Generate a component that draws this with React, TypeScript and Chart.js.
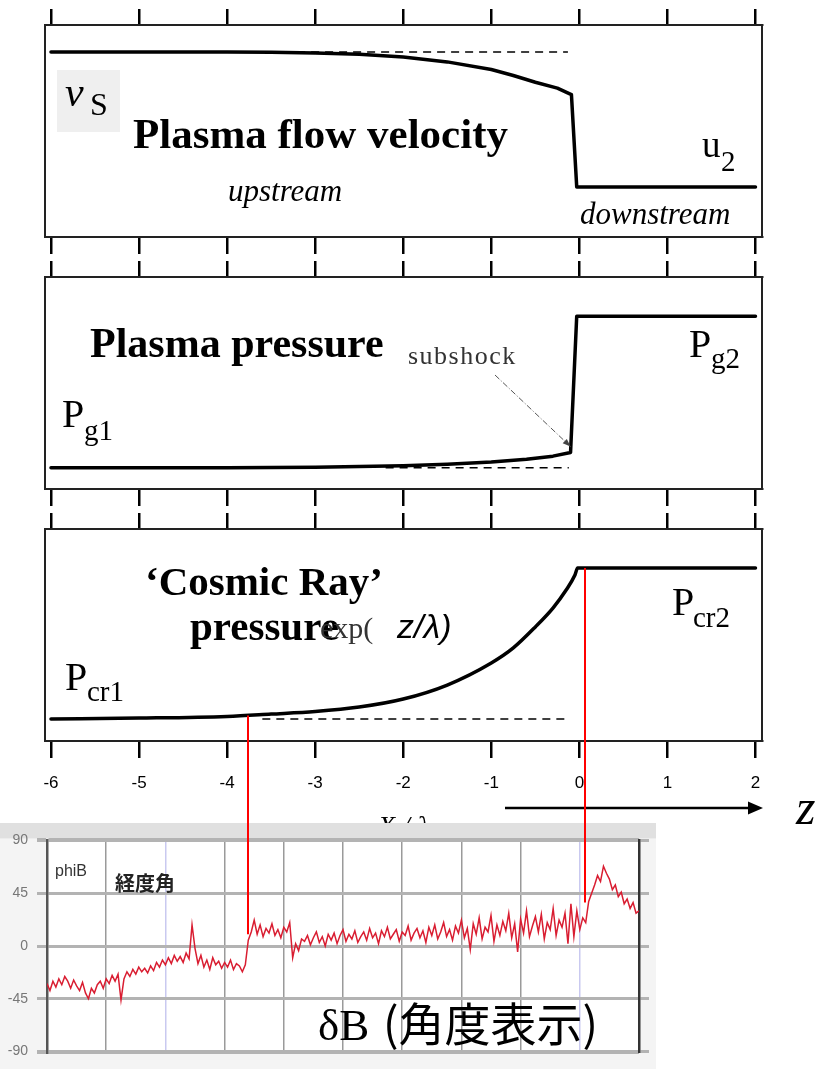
import React, { useEffect, useRef } from 'react';
import { Chart, registerables } from 'chart.js';

Chart.register(...registerables);

// ---------------- Data ----------------
const zTicks = [-6, -5, -4, -3, -2, -1, 0, 1, 2];
const Z_MIN = -6.068;
const Z_MAX = 2.074;

// Plasma flow velocity (fraction of panel height)
const velocityZ = [-6, -4, -3.5, -3, -2.5, -2, -1.5, -1, -0.75, -0.5, -0.25, -0.09, -0.03, 2];
const velocityU = [0.873, 0.873, 0.872, 0.868, 0.862, 0.849, 0.826, 0.79, 0.762, 0.73, 0.702, 0.672, 0.236, 0.236];
const velocityRefZ = [-4, -0.13];
const velocityRefU = [0.873, 0.873];

// Plasma pressure
const gasZ = [-6, -4, -3, -2.5, -2, -1.5, -1, -0.6, -0.3, -0.1, -0.03, 2];
const gasP = [0.1, 0.1, 0.103, 0.106, 0.11, 0.117, 0.127, 0.14, 0.155, 0.172, 0.815, 0.815];
const gasRefZ = [-2.2, -0.12];
const gasRefP = [0.1, 0.1];

// Cosmic ray pressure
const crZ = [-6, -5, -4, -3.5, -3, -2.5, -2, -1.5, -1, -0.75, -0.5, -0.3, -0.15, -0.05, -0.02, 2];
const crP = [0.104, 0.108, 0.116, 0.127, 0.139, 0.16, 0.198, 0.264, 0.368, 0.439, 0.538, 0.627, 0.712, 0.783, 0.816, 0.816];
const crRefZ = [-3.6, -0.12];
const crRefP = [0.104, 0.104];

// phiB (degrees), inset
const phiTicks = [-90, -45, 0, 45, 90];
const phiGrid = [0, 1, 2, 3, 4, 5, 6, 7, 8, 9, 10];
const phiB = [
  -32, -38, -30, -35, -28, -33, -26, -30, -36, -29,
  -34, -38, -31, -40, -45, -36, -40, -33, -30, -36,
  -28, -32, -25, -30, -24, -46, -28, -22, -26, -20,
  -24, -18, -22, -19, -23, -17, -21, -14, -18, -12,
  -16, -10, -15, -8, -13, -9, -14, -6, -11, 18,
  -2, -15, -8, -18, -12, -20, -10, -16, -13, -19,
  -14, -18, -12, -20, -15, -17, -22, -16,
  5, 12, 22, 10, 18, 8, 15, 11, 19, 9, 14, 7, 16, 12, 20, -10, 2, -4, 6,
  4, 9, 1, 7, 12, 3, 8, 0, 10, 5,
  11, 2, 9, 14, 4, 10, 6, 13, 3, 8,
  12, 5, 15, 7, 11, 2, 13, 8, 16, 6,
  10, 14, 4, 12, 9, 17, 5, 11, 15, 7,
  13, 3, 16, 9, 18, 6, 12, 20, 8, 14,
  5, 17, 11, 22, 7, 15, -3, 19, 10, 24,
  6, 16, 12, 26, 4, 18, 9, 21, 13, 28,
  7, 19, -5, 23, 11, 30, 8, 17, 25, 12,
  27, 6, 20, 14, 32, 9, 22, 16, 28, 2,
  36, 8, 30, 14, 24, 20,
  38, 45, 52, 60, 55, 68, 62, 57, 48, 52, 42, 46, 36, 40, 32, 37, 28, 30,
];
const PHI_X_MAX = 10;

// red connecting lines
const linkZ = [-3.76, 0.06];
const linkP = [0.12, 0.816];
const linkPhi = [10, 37];

// ---------------- Layout ----------------
const SERIF = '"Liberation Serif", "Times New Roman", serif';
const SANS = '"Liberation Sans", Arial, sans-serif';
const CJK = '"Noto Sans CJK JP", sans-serif';

const W = 821;
const PANEL_TOPS = [9, 261, 513];
const PANEL_H = [245, 245, 331];
const BOTTOM_AXIS_H = [17, 17, 103];
const INSET_TOP = 823;
const INSET_W = 656;
const INSET_H = 246;

type TextItem = { t: string; x: number; y: number; font: string; color?: string; ls?: string };

const velocityTexts: TextItem[] = [
  { t: 'v', x: 65, y: 106, font: `italic 42px ${SERIF}` },
  { t: 'S', x: 90, y: 115, font: `32px ${SERIF}` },
  { t: 'Plasma flow velocity', x: 133, y: 148, font: `bold 43px ${SERIF}` },
  { t: 'upstream', x: 228, y: 201, font: `italic 31px ${SERIF}` },
  { t: 'downstream', x: 580, y: 224, font: `italic 31px ${SERIF}` },
  { t: 'u', x: 702, y: 157, font: `37px ${SERIF}` },
  { t: '2', x: 721, y: 171, font: `29px ${SERIF}` },
];

const gasTexts: TextItem[] = [
  { t: 'Plasma pressure', x: 90, y: 357, font: `bold 42px ${SERIF}` },
  { t: 'subshock', x: 408, y: 364, font: `26px ${SERIF}`, color: '#333', ls: '1.5px' },
  { t: 'P', x: 62, y: 427, font: `40px ${SERIF}` },
  { t: 'g1', x: 84, y: 440, font: `29px ${SERIF}` },
  { t: 'P', x: 689, y: 357, font: `40px ${SERIF}` },
  { t: 'g2', x: 711, y: 368, font: `29px ${SERIF}` },
];

const crTexts: TextItem[] = [
  { t: '\u2018Cosmic Ray\u2019', x: 145, y: 595, font: `bold 41px ${SERIF}` },
  { t: 'pressure', x: 190, y: 640, font: `bold 41px ${SERIF}` },
  { t: 'exp(', x: 320, y: 638, font: `30px ${SERIF}`, color: '#333' },
  { t: 'z/\u03bb)', x: 397, y: 638, font: `italic 34px ${SANS}` },
  { t: 'P', x: 65, y: 690, font: `40px ${SERIF}` },
  { t: 'cr1', x: 87, y: 701, font: `29px ${SERIF}` },
  { t: 'P', x: 672, y: 615, font: `40px ${SERIF}` },
  { t: 'cr2', x: 693, y: 627, font: `29px ${SERIF}` },
  { t: 'z', x: 796, y: 824, font: `italic 50px ${SERIF}` },
];

const insetTexts: TextItem[] = [
  { t: 'phiB', x: 55, y: 876, font: `16px ${SANS}`, color: '#333' },
  { t: '経度角', x: 115, y: 891, font: `bold 20px ${CJK}`, color: '#222' },
  { t: 'δB', x: 318, y: 1040, font: `45px ${SERIF}` },
  { t: '(角度表示)', x: 383, y: 1041, font: `46px ${CJK}` },
];

function drawTexts(ctx: CanvasRenderingContext2D, items: TextItem[], top: number) {
  ctx.save();
  ctx.textBaseline = 'alphabetic';
  ctx.textAlign = 'left';
  for (const it of items) {
    ctx.font = it.font;
    ctx.fillStyle = it.color || '#000';
    (ctx as any).letterSpacing = it.ls || '0px';
    ctx.fillText(it.t, it.x, it.y - top);
  }
  ctx.restore();
}

function arrowHead(ctx: CanvasRenderingContext2D, x0: number, y0: number, x1: number, y1: number, len: number, half: number) {
  const a = Math.atan2(y1 - y0, x1 - x0);
  ctx.beginPath();
  ctx.moveTo(x1, y1);
  ctx.lineTo(x1 - len * Math.cos(a) + half * Math.sin(a), y1 - len * Math.sin(a) - half * Math.cos(a));
  ctx.lineTo(x1 - len * Math.cos(a) - half * Math.sin(a), y1 - len * Math.sin(a) + half * Math.cos(a));
  ctx.closePath();
  ctx.fill();
}

const pts = (xs: number[], ys: number[]) => xs.map((x, i) => ({ x, y: ys[i] }));

function makePanel(
  canvas: HTMLCanvasElement,
  idx: number,
  xs: number[], ys: number[],
  rx: number[], ry: number[],
  smooth: boolean,
  showLabels: boolean,
  decorate: (chart: any, top: number) => void,
) {
  const top = PANEL_TOPS[idx];
  const bottomH = BOTTOM_AXIS_H[idx];
  const yEdge = (position: string) => ({
    position, min: 0, max: 1,
    afterFit: (s: any) => { s.width = 0; },
    grid: { display: false, drawTicks: false },
    ticks: { display: false },
    border: { display: true, color: '#222', width: 2 },
  });
  const tickGrid = (len: number) => ({ drawOnChartArea: false, drawTicks: true, tickLength: len, color: '#000', lineWidth: 2.5 });
  const solid: any = { data: pts(xs, ys), borderColor: '#000', borderWidth: 3.5, pointRadius: 0, fill: false, borderJoinStyle: 'round', borderCapStyle: 'round' };
  if (smooth) solid.cubicInterpolationMode = 'monotone';
  else solid.tension = 0;
  return new Chart(canvas, {
    type: 'line',
    data: {
      datasets: [
        solid,
        { data: pts(rx, ry), borderColor: '#000', borderWidth: 1.5, borderDash: [8, 6], pointRadius: 0, fill: false },
      ],
    },
    options: {
      responsive: false,
      animation: false,
      events: [],
      layout: { autoPadding: false, padding: { left: 45, right: W - 762, top: 0, bottom: 0 } },
      plugins: { legend: { display: false }, tooltip: { enabled: false } },
      scales: {
        x: {
          type: 'linear', position: 'bottom', min: Z_MIN, max: Z_MAX,
          afterBuildTicks: (s: any) => { s.ticks = zTicks.map((value) => ({ value })); },
          afterFit: (s: any) => { s.height = bottomH; },
          grid: tickGrid(17),
          border: { display: true, color: '#222', width: 2 },
          ticks: showLabels
            ? { display: true, autoSkip: false, maxRotation: 0, padding: 15, color: '#000', font: { family: SANS, size: 17 } }
            : { display: false },
          title: showLabels
            ? { display: true, text: 'X / λ', color: '#000', padding: 0, font: { family: SERIF, size: 28, style: 'italic' } }
            : { display: false },
        },
        xTop: {
          type: 'linear', position: 'top', min: Z_MIN, max: Z_MAX,
          afterBuildTicks: (s: any) => { s.ticks = zTicks.map((value) => ({ value })); },
          afterFit: (s: any) => { s.height = 16; },
          grid: tickGrid(16),
          border: { display: true, color: '#222', width: 2 },
          ticks: { display: false },
        },
        y: yEdge('left'),
        yR: yEdge('right'),
      },
    } as any,
    plugins: [{ id: 'annot' + idx, afterDraw: (chart: any) => decorate(chart, top) }],
  });
}

export default function App() {
  const c1 = useRef<HTMLCanvasElement>(null);
  const c2 = useRef<HTMLCanvasElement>(null);
  const c3 = useRef<HTMLCanvasElement>(null);
  const c4 = useRef<HTMLCanvasElement>(null);
  const ov = useRef<HTMLCanvasElement>(null);

  useEffect(() => {
    const p1 = makePanel(c1.current!, 0, velocityZ, velocityU, velocityRefZ, velocityRefU, false, false, (chart, top) => {
      const ctx = chart.ctx as CanvasRenderingContext2D;
      ctx.save();
      ctx.fillStyle = '#efefef';
      ctx.fillRect(57, 70 - top, 63, 62);
      ctx.restore();
      drawTexts(ctx, velocityTexts, top);
    });

    const p2 = makePanel(c2.current!, 1, gasZ, gasP, gasRefZ, gasRefP, false, false, (chart, top) => {
      const ctx = chart.ctx as CanvasRenderingContext2D;
      drawTexts(ctx, gasTexts, top);
      const ex = chart.scales.x.getPixelForValue(-0.1);
      const ey = chart.scales.y.getPixelForValue(0.2);
      const sx = 495, sy = 375 - top;
      ctx.save();
      ctx.strokeStyle = '#555';
      ctx.fillStyle = '#444';
      ctx.lineWidth = 1;
      ctx.setLineDash([6, 2, 1, 2]);
      ctx.beginPath();
      ctx.moveTo(sx, sy);
      ctx.lineTo(ex, ey);
      ctx.stroke();
      ctx.setLineDash([]);
      arrowHead(ctx, sx, sy, ex, ey, 8, 3);
      ctx.restore();
    });

    const p3 = makePanel(c3.current!, 2, crZ, crP, crRefZ, crRefP, true, true, (chart, top) => {
      const ctx = chart.ctx as CanvasRenderingContext2D;
      drawTexts(ctx, crTexts, top);
      ctx.save();
      ctx.strokeStyle = '#000';
      ctx.fillStyle = '#000';
      ctx.lineWidth = 2.5;
      const ay = 808 - top;
      ctx.beginPath();
      ctx.moveTo(505, ay);
      ctx.lineTo(750, ay);
      ctx.stroke();
      arrowHead(ctx, 505, ay, 763, ay, 15, 6.5);
      ctx.restore();
    });

    const inset = new Chart(c4.current!, {
      type: 'line',
      data: {
        datasets: [{
          data: phiB.map((v, i) => ({ x: (i * PHI_X_MAX) / (phiB.length - 1), y: v })),
          borderColor: '#d91d31',
          borderWidth: 1.5,
          pointRadius: 0,
          tension: 0,
          fill: false,
        }],
      },
      options: {
        responsive: false,
        animation: false,
        events: [],
        layout: { autoPadding: false, padding: { left: 0, right: 7, top: 14, bottom: 7 } },
        plugins: { legend: { display: false }, tooltip: { enabled: false } },
        scales: {
          x: {
            type: 'linear', min: 0, max: PHI_X_MAX,
            afterBuildTicks: (s: any) => { s.ticks = phiGrid.map((value) => ({ value })); },
            afterFit: (s: any) => { s.height = 0; },
            ticks: { display: false },
            grid: {
              drawTicks: false,
              color: (c: any) => (c.index === 2 || c.index === 9 ? '#c9c9f0' : '#9a9a9a'),
              lineWidth: 1.5,
            },
            border: { display: false },
          },
          y: {
            position: 'left', min: -90, max: 90,
            afterBuildTicks: (s: any) => { s.ticks = phiTicks.map((value) => ({ value })); },
            afterFit: (s: any) => { s.width = 47; },
            ticks: { color: '#777', padding: 9, font: { family: SANS, size: 14 } },
            grid: {
              color: '#b3b3b3',
              lineWidth: (c: any) => (c.tick && Math.abs(c.tick.value) === 90 ? 4 : 3),
              tickLength: 10,
            },
            border: { display: true, color: '#555', width: 2.5 },
          },
          yR: {
            position: 'right', min: -90, max: 90,
            afterBuildTicks: (s: any) => { s.ticks = phiTicks.map((value) => ({ value })); },
            afterFit: (s: any) => { s.width = 10; },
            ticks: { display: false },
            grid: { drawOnChartArea: false, tickLength: 10, color: '#b3b3b3', lineWidth: 3 },
            border: { display: true, color: '#333', width: 2.5 },
          },
        },
      } as any,
      plugins: [{
        id: 'insetDeco',
        beforeDraw: (chart: any) => {
          const ctx = chart.ctx as CanvasRenderingContext2D;
          const a = chart.chartArea;
          ctx.save();
          ctx.fillStyle = '#f4f4f4';
          ctx.fillRect(0, 0, chart.width, chart.height);
          ctx.fillStyle = '#e0e0e0';
          ctx.fillRect(0, 0, chart.width, a.top - 2);
          ctx.fillStyle = '#ffffff';
          ctx.fillRect(a.left, a.top, a.right - a.left, a.bottom - a.top);
          ctx.restore();
        },
        afterDraw: (chart: any) => {
          drawTexts(chart.ctx, insetTexts, INSET_TOP);
        },
      }],
    });

    // red connecting lines across panel 3 and the inset
    const o = ov.current!;
    const octx = o.getContext('2d')!;
    octx.clearRect(0, 0, o.width, o.height);
    octx.strokeStyle = '#ff0000';
    octx.lineWidth = 2;
    linkZ.forEach((z, i) => {
      const x = Math.round((p3 as any).scales.x.getPixelForValue(z));
      const yTop = PANEL_TOPS[2] + (p3 as any).scales.y.getPixelForValue(linkP[i]);
      const yBot = INSET_TOP + (inset as any).scales.y.getPixelForValue(linkPhi[i]);
      octx.beginPath();
      octx.moveTo(x, yTop);
      octx.lineTo(x, yBot);
      octx.stroke();
    });

    return () => {
      p1.destroy();
      p2.destroy();
      p3.destroy();
      inset.destroy();
    };
  }, []);

  const abs = (top: number, w: number, h: number, z = 1): React.CSSProperties => ({
    position: 'absolute', left: 0, top, width: w, height: h, zIndex: z, display: 'block',
  });

  return (
    <div style={{ position: 'absolute', left: 0, top: 0, width: W, height: 1069, background: '#fff', overflow: 'hidden' }}>
      <canvas ref={c1} width={W} height={PANEL_H[0]} style={abs(PANEL_TOPS[0], W, PANEL_H[0])} />
      <canvas ref={c2} width={W} height={PANEL_H[1]} style={abs(PANEL_TOPS[1], W, PANEL_H[1])} />
      <canvas ref={c3} width={W} height={PANEL_H[2]} style={abs(PANEL_TOPS[2], W, PANEL_H[2])} />
      <canvas ref={c4} width={INSET_W} height={INSET_H} style={abs(INSET_TOP, INSET_W, INSET_H, 2)} />
      <canvas ref={ov} width={W} height={1069} style={{ ...abs(0, W, 1069, 3), pointerEvents: 'none' }} />
    </div>
  );
}
